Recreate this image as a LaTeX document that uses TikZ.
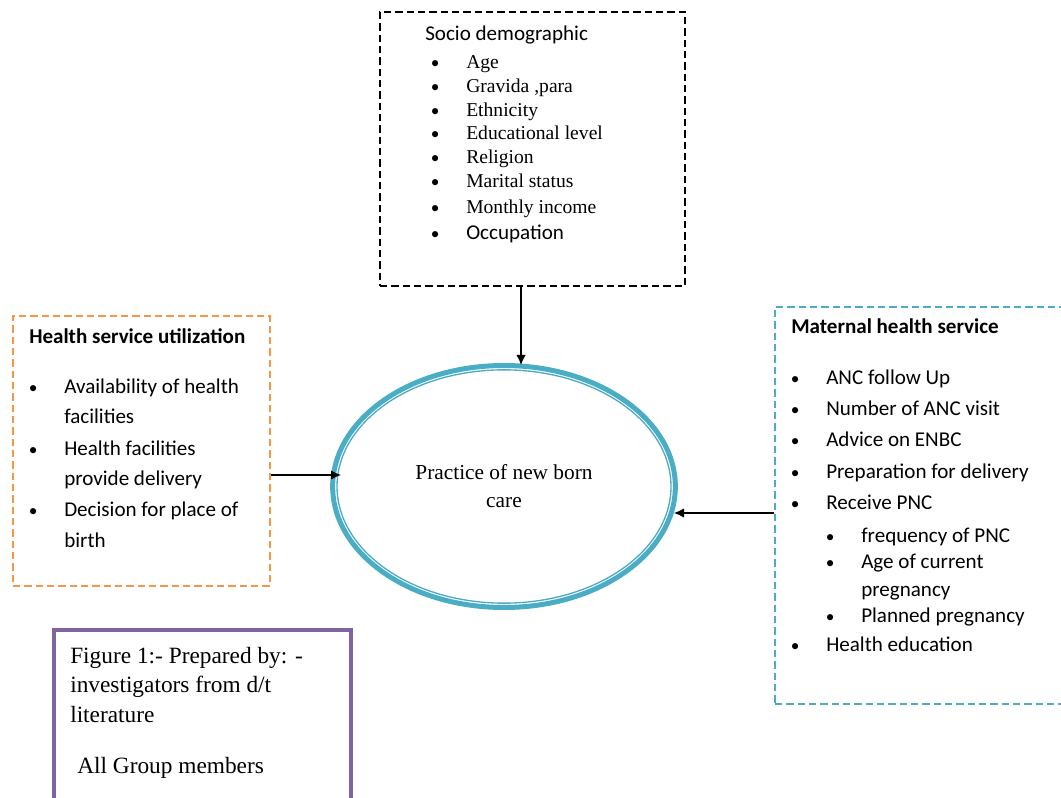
\documentclass[tikz,border=0pt]{standalone}
\usepackage{fontspec}
\setmainfont{Liberation Serif}
\newfontfamily\calibri{Carlito}
\usetikzlibrary{positioning,fit,calc,shapes.geometric,arrows.meta}
\definecolor{orangeline}{HTML}{F79646}
\definecolor{tealline}{HTML}{4BACC6}
\definecolor{purpleline}{HTML}{8064A2}
\newcommand{\bul}[2][23.25pt]{\llap{\makebox[0pt]{\calibri\fontsize{13}{13}\selectfont\textbullet}\hspace{#1}}#2}
\tikzstyle{frame} = [inner sep=0pt, line width=1pt, dash pattern=on 5.5pt off 3pt]
\tikzstyle{sdbox} = [frame, draw=black]
\tikzstyle{hsubox} = [frame, draw=orangeline]
\tikzstyle{mhsbox} = [frame, draw=tealline]
\tikzstyle{notebox} = [inner sep=0pt, draw=purpleline, line width=3pt]
\tikzstyle{item} = [anchor=base west, inner sep=0pt, font=\fontsize{14.7}{17}\selectfont]
\tikzstyle{citem} = [anchor=base west, inner sep=0pt, font=\calibri\fontsize{15.8}{19}\selectfont]
\tikzstyle{ctitle} = [anchor=base west, inner sep=0pt, font=\calibri\bfseries\fontsize{15.8}{19}\selectfont]
\tikzstyle{note} = [anchor=base west, inner sep=0pt, font=\fontsize{17.5}{21}\selectfont]
\tikzstyle{outcome} = [ellipse, draw=tealline, line width=3.75pt, minimum width=257pt, minimum height=181.5pt,
  inner sep=0pt, align=center, font=\fontsize{16}{21}\selectfont]
\tikzstyle{outcome_inner} = [ellipse, draw=tealline, line width=1pt, minimum width=250.5pt, minimum height=175pt]
\tikzstyle{arrow} = [line width=0.9pt, -{Latex[length=7.5pt,width=7pt]}]

\begin{document}
\begin{tikzpicture}[x=0.75pt, y=-0.75pt]
\useasboundingbox (0,0) rectangle (1061,798);

% Frames
\node (Socio) [sdbox, fit={(380,12) (685,286)}] {};
\node (Health_Use) [hsubox, fit={(13,316) (270,586)}] {};
\node (Maternal) [mhsbox, fit={(775,307) (1068,704)}] {};
\node (Note) [notebox, fit={(54,630) (351,812)}] {};

% Central outcome
\node (Practice) [outcome] at (504,486.5) {Practice of new born\\care};
\node (Practice_Inner) [outcome_inner] at (Practice.center) {};

% Socio demographic
\node (Socio_Title) [citem] at (425,41) {Socio demographic};
\foreach \y/\t [count=\i] in {69/Age, 93/{Gravida ,para}, 117/Ethnicity, 140/Educational level,
  164/Religion, 188/Marital status, 214/Monthly income}
  \node (Socio_\i) [item] at (466,\y) {\bul{\t}};
\node (Socio_8) [citem] at (466,240) {\bul{Occupation}};

% Health service utilization
\node (Health_Use_Title) [ctitle] at (29,344) {Health service utilization};
\foreach \y/\t [count=\i] in {394/\bul{Availability of health}, 424/facilities, 456/\bul{Health facilities},
  486/provide delivery, 517/\bul{Decision for place of}, 548/birth}
  \node (Health_Use_\i) [citem] at (64,\y) {\t};

% Maternal health service
\node (Maternal_Title) [ctitle] at (791,334) {Maternal health service};
\foreach \x/\y/\t [count=\i] in {826/385/\bul{ANC follow Up}, 826/416/\bul{Number of ANC visit},
  826/447/\bul{Advice on ENBC}, 826/479/\bul{Preparation for delivery}, 826/510/\bul{Receive PNC},
  861/542/\bul{frequency of PNC}, 861/569/\bul{Age of current}, 861/596/pregnancy,
  861/623/\bul{Planned pregnancy}, 826/651/\bul{Health education}}
  \node (Maternal_\i) [citem] at (\x,\y) {\t};

% Prepared by
\node (Note_1) [note] at (70,663) {Figure 1:- Prepared by: -};
\node (Note_2) [note] at (70,692) {investigators from d/t};
\node (Note_3) [note] at (70,722) {literature};
\node (Note_4) [note] at (77,773) {All Group members};

% Connections
\coordinate (Left_In) at (341,475);
\coordinate (Right_In) at (674,513);
\draw [arrow] ([xshift=-8.6pt]Socio.south) -- ([xshift=-8.6pt,yshift=-1.5pt]Socio.south |- Practice.north);
\draw [arrow] (Health_Use.east |- Left_In) -- (Left_In);
\draw [arrow] (Maternal.west |- Right_In) -- (Right_In);

\end{tikzpicture}
\end{document}
